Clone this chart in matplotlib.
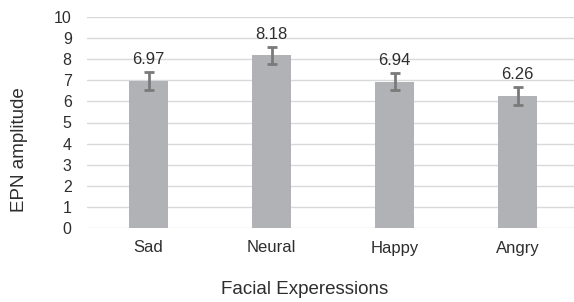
import matplotlib
matplotlib.use("Agg")
import matplotlib.pyplot as plt

plt.rcParams['font.family'] = ['Liberation Sans', 'DejaVu Sans']

categories = ["Sad", "Neural", "Happy", "Angry"]
values = [6.97, 8.18, 6.94, 6.26]
errors = [0.42, 0.42, 0.42, 0.42]
value_labels = ["6.97", "8.18", "6.94", "6.26"]
yticks = list(range(0, 11))

fig = plt.figure(figsize=(5.74, 3.02), dpi=100)
ax = fig.add_axes([87/574, (302-228)/302, (579-87)/574, (228-17)/302])

x = list(range(len(categories)))
ax.bar(x, values, width=0.31, color="#b1b2b5", zorder=2)
ax.errorbar(x, values, yerr=errors, fmt="none", ecolor="#7a7a7a",
            elinewidth=2, capsize=3.5, capthick=2, zorder=3)
for xi, v, e, lab in zip(x, values, errors, value_labels):
    ax.text(xi, v + e + 0.38, lab, ha="center", va="baseline", fontsize=12, color="#2e2e2e")

ax.set_xlim(-0.5, len(categories) - 0.5)
ax.set_ylim(0, 10)
ax.set_yticks(yticks)
ax.set_yticklabels([str(t) for t in yticks], fontsize=11.5, color="#2e2e2e")
ax.set_xticks(x)
ax.set_xticklabels(categories, fontsize=12, color="#2e2e2e")
ax.yaxis.grid(True, color="#d9d9d9", linewidth=1, zorder=0)
ax.set_axisbelow(True)
for s in ax.spines.values():
    s.set_visible(False)
ax.tick_params(axis="y", length=0, pad=11)
ax.tick_params(axis="x", length=0, pad=9)

fig.text(20/574, 1 - 150/302, "EPN amplitude", rotation=90, ha="center", va="center",
         fontsize=13.5, color="#2e2e2e")
fig.text(305/574, 1 - 290/302, "Facial Experessions", ha="center", va="center",
         fontsize=13.5, color="#2e2e2e")

fig.savefig("out.png", dpi=100, facecolor="white")
